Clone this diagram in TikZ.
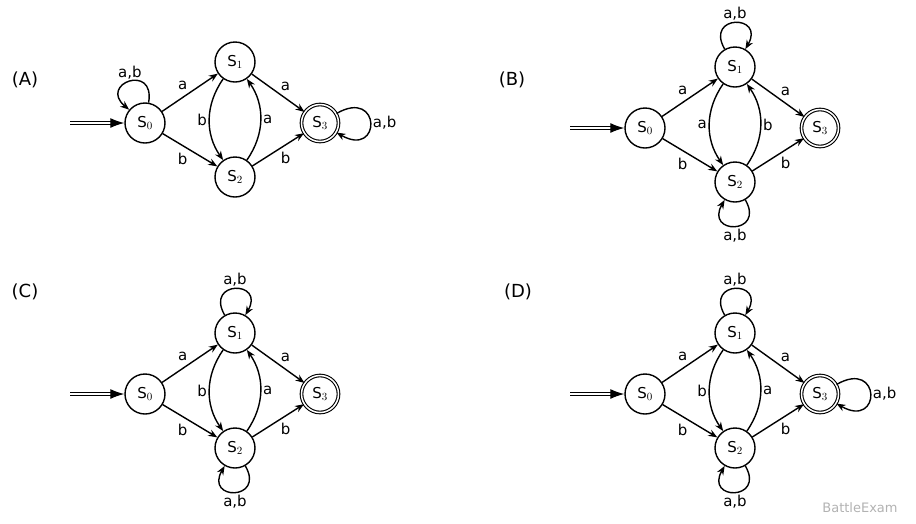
\documentclass[tikz,border=0pt]{standalone}
\usepackage{fontspec}
\setmainfont{DejaVu Sans}
\usetikzlibrary{arrows.meta}

\tikzset{
  state/.style={circle,draw,line width=1.4pt,minimum size=40pt,inner sep=0pt,font=\fontsize{15}{17}\selectfont},
  acc/.style={state,double,double distance=1.5pt,line width=1.1pt,minimum size=37pt},
  lbl/.style={font=\fontsize{15}{17}\selectfont,inner sep=2pt},
}
% one automaton: #1 = shift, #2 = left label, #3 = right label
\newcommand{\dfa}[3]{%
  \begin{scope}[shift={#1}]
    \node[state] (s0) at (145,123) {S$_0$};
    \node[state] (s1) at (235,62) {S$_1$};
    \node[state] (s2) at (235,177) {S$_2$};
    \node[acc] (s3) at (320,123) {S$_3$};
    \coordinate (in) at (70,123);
    \draw[double,double distance=2pt,line width=1.2pt,-{Latex[length=14pt,width=10pt]}] (in) -- (s0);
    \path[->] (s0) edge node[lbl,above left] {a} (s1)
              (s0) edge node[lbl,below left] {b} (s2)
              (s1) edge node[lbl,above right] {a} (s3)
              (s2) edge node[lbl,below right] {b} (s3)
              (s1) edge[bend right=35] node[lbl,left] {#2} (s2)
              (s2) edge[bend right=35] node[lbl,right] {#3} (s1);
  \end{scope}}

\begin{document}
\begin{tikzpicture}[x=1pt,y=-1pt,line width=1.4pt,>={Stealth[length=9pt,width=7pt]}]
\useasboundingbox (0,0) rectangle (916,523);

% (A)
\node[lbl,font=\fontsize{18}{20}\selectfont] (la) at (25,80) {(A)};
\dfa{(0,0)}{b}{a}
\path[->] (s0) edge[out=80,in=140,looseness=5] node[lbl,above] {a,b} (s0)
          (s3) edge[out=30,in=-30,looseness=7] node[lbl,right] {a,b} (s3);

% (B)
\node[lbl,font=\fontsize{18}{20}\selectfont] (lb) at (512,80) {(B)};
\dfa{(500,5)}{a}{b}
\path[->] (s1) edge[out=120,in=60,looseness=5] node[lbl,above] {a,b} (s1)
          (s2) edge[out=-60,in=-120,looseness=5] node[lbl,below] {a,b} (s2);

% (C)
\node[lbl,font=\fontsize{18}{20}\selectfont] (lc) at (25,292) {(C)};
\dfa{(0,271)}{b}{a}
\path[->] (s1) edge[out=120,in=60,looseness=5] node[lbl,above] {a,b} (s1)
          (s2) edge[out=-60,in=-120,looseness=5] node[lbl,below] {a,b} (s2);

% (D)
\node[lbl,font=\fontsize{18}{20}\selectfont] (ld) at (518,292) {(D)};
\dfa{(500,271)}{b}{a}
\path[->] (s1) edge[out=120,in=60,looseness=5] node[lbl,above] {a,b} (s1)
          (s2) edge[out=-60,in=-120,looseness=5] node[lbl,below] {a,b} (s2)
          (s3) edge[out=30,in=-30,looseness=7] node[lbl,right] {a,b} (s3);

\node[text=gray!60,font=\fontsize{13}{15}\selectfont] (wm) at (860,508) {BattleExam};
\end{tikzpicture}
\end{document}
